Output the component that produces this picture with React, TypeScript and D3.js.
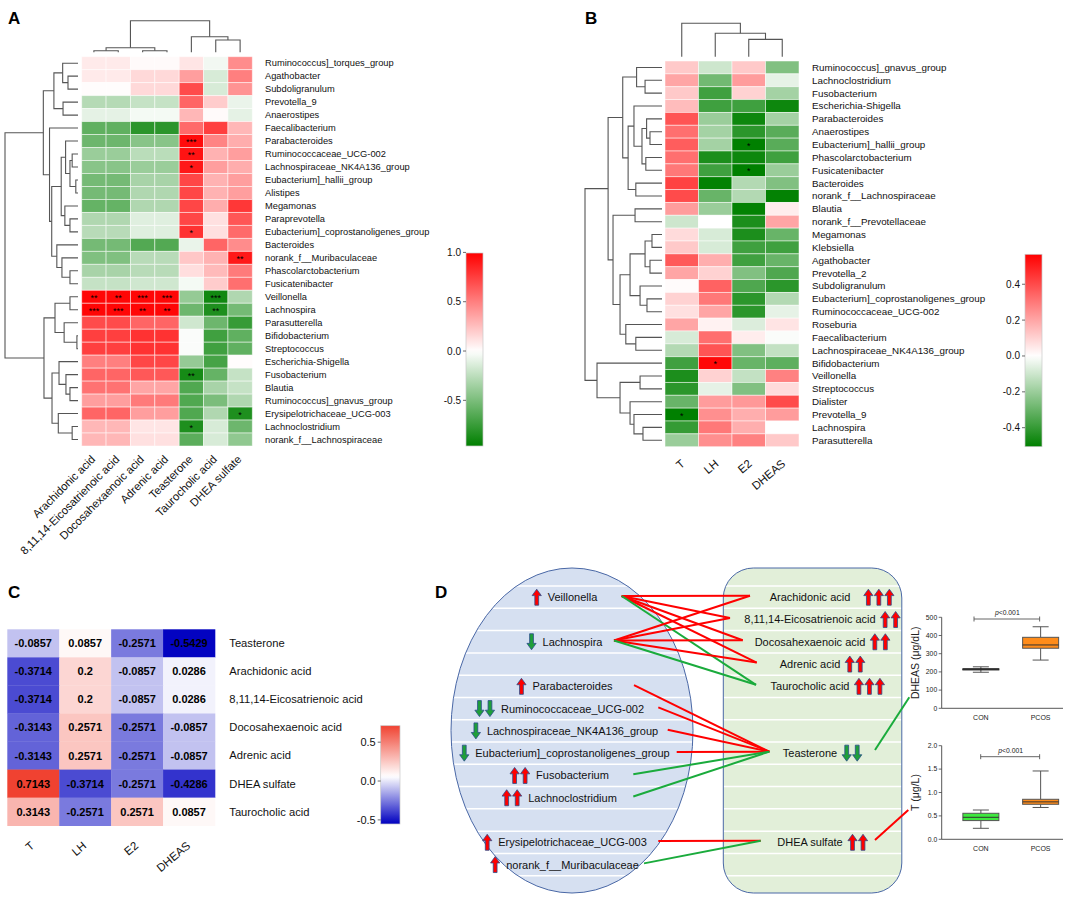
import React from 'react';
import * as d3 from 'd3';

const FONT = "Arial, 'Liberation Sans', Helvetica, sans-serif";

type Tree = number | [number, Tree, Tree];

// ---------------- Panel A data ----------------
const aRowNames = [
  'Ruminococcus]_torques_group', 'Agathobacter', 'Subdoligranulum', 'Prevotella_9', 'Anaerostipes',
  'Faecalibacterium', 'Parabacteroides', 'Ruminococcaceae_UCG-002', 'Lachnospiraceae_NK4A136_group',
  'Eubacterium]_hallii_group', 'Alistipes', 'Megamonas', 'Paraprevotella',
  'Eubacterium]_coprostanoligenes_group', 'Bacteroides', 'norank_f__Muribaculaceae',
  'Phascolarctobacterium', 'Fusicatenibacter', 'Veillonella', 'Lachnospira', 'Parasutterella',
  'Bifidobacterium', 'Streptococcus', 'Escherichia-Shigella', 'Fusobacterium', 'Blautia',
  'Ruminococcus]_gnavus_group', 'Erysipelotrichaceae_UCG-003', 'Lachnoclostridium', 'norank_f__Lachnospiraceae',
];
const aColNames = [
  'Arachidonic acid', '8,11,14-Eicosatrienoic acid', 'Docosahexaenoic acid', 'Adrenic acid',
  'Teasterone', 'Taurocholic acid', 'DHEA sulfate',
];
const aValues: number[][] = [
  [0.08, 0.08, 0.02, 0.02, 0.1, -0.05, 0.45],
  [0.08, 0.08, 0.15, 0.15, 0.38, -0.15, 0.5],
  [0.01, 0.01, 0.15, 0.15, 0.7, -0.15, 0.42],
  [-0.28, -0.28, -0.22, -0.22, 0.6, 0.2, -0.08],
  [-0.1, -0.1, -0.04, -0.04, 0.28, 0.02, -0.1],
  [-0.6, -0.6, -0.8, -0.8, 0.58, 0.75, 0.28],
  [-0.55, -0.55, -0.45, -0.45, 0.95, 0.48, 0.32],
  [-0.38, -0.38, -0.26, -0.26, 0.92, 0.3, 0.38],
  [-0.45, -0.45, -0.38, -0.38, 0.9, 0.38, 0.32],
  [-0.52, -0.52, -0.33, -0.33, 0.72, 0.3, 0.38],
  [-0.52, -0.52, -0.3, -0.3, 0.72, 0.3, 0.38],
  [-0.58, -0.58, -0.3, -0.3, 0.72, 0.32, 0.78],
  [-0.3, -0.3, -0.12, -0.12, 0.72, 0.12, 0.66],
  [-0.27, -0.27, -0.12, -0.12, 0.8, 0.12, 0.58],
  [-0.52, -0.52, -0.65, -0.65, -0.08, 0.6, 0.45],
  [-0.48, -0.48, -0.27, -0.27, 0.22, 0.3, 0.9],
  [-0.33, -0.33, -0.27, -0.27, 0.13, 0.27, 0.52],
  [-0.22, -0.22, -0.18, -0.18, -0.04, 0.2, 0.56],
  [0.97, 0.97, 0.97, 0.97, -0.4, -0.9, -0.3],
  [0.97, 0.97, 0.97, 0.97, -0.55, -0.85, -0.52],
  [0.7, 0.7, 0.6, 0.6, -0.18, -0.55, -0.76],
  [0.75, 0.75, 0.8, 0.8, -0.02, -0.72, -0.6],
  [0.75, 0.75, 0.8, 0.8, -0.02, -0.72, -0.6],
  [0.5, 0.5, 0.72, 0.72, -0.4, -0.7, 0.01],
  [0.6, 0.6, 0.65, 0.65, -0.88, -0.58, -0.22],
  [0.55, 0.55, 0.35, 0.35, -0.66, -0.33, -0.22],
  [0.38, 0.38, 0.52, 0.52, -0.66, -0.5, -0.3],
  [0.6, 0.6, 0.38, 0.38, -0.66, -0.3, -0.85],
  [0.28, 0.28, 0.1, 0.1, -0.85, -0.15, -0.55],
  [0.28, 0.28, 0.12, 0.12, -0.62, -0.15, -0.42],
];
const aStars: [number, number, string][] = [
  [6, 4, '***'], [7, 4, '**'], [8, 4, '*'], [13, 4, '*'], [15, 6, '**'],
  [18, 0, '**'], [18, 1, '**'], [18, 2, '***'], [18, 3, '***'], [18, 5, '***'],
  [19, 0, '***'], [19, 1, '***'], [19, 2, '**'], [19, 3, '**'], [19, 5, '**'],
  [24, 4, '**'], [27, 6, '*'], [28, 4, '*'],
];
const aRowTree: Tree = [1.0,
  [0.475,
    [0.33, [0.21, 0, [0.137, 1, 2]], [0.205, 3, 4]],
    [0.39, 5, [0.36,
      [0.23, [0.17, 6, [0.11, [0.08, 7, 8], [0.03, 9, 10]]], [0.18, 11, [0.11, 12, 13]]],
      [0.29, 14, [0.22, 15, [0.11, 16, 17]]]]]],
  [0.466,
    [0.315, [0.11, 18, 19], [0.19, 20, [0.015, 21, 22]]],
    [0.356, [0.26, 23, [0.165, 24, [0.11, 25, 26]]], [0.27, 27, [0.08, 28, 29]]]]];
const aColTree: Tree = [1.0, [0.145, [0.05, 0, 1], [0.05, 2, 3]], [0.49, 4, [0.39, 5, 6]]];
const aTicks = [1.0, 0.5, 0.0, -0.5];

// ---------------- Panel B data ----------------
const bRowNames = [
  'Ruminococcus]_gnavus_group', 'Lachnoclostridium', 'Fusobacterium', 'Escherichia-Shigella',
  'Parabacteroides', 'Anaerostipes', 'Eubacterium]_hallii_group', 'Phascolarctobacterium',
  'Fusicatenibacter', 'Bacteroides', 'norank_f__Lachnospiraceae', 'Blautia', 'norank_f__Prevotellaceae',
  'Megamonas', 'Klebsiella', 'Agathobacter', 'Prevotella_2', 'Subdoligranulum',
  'Eubacterium]_coprostanoligenes_group', 'Ruminococcaceae_UCG-002', 'Roseburia', 'Faecalibacterium',
  'Lachnospiraceae_NK4A136_group', 'Bifidobacterium', 'Veillonella', 'Streptococcus', 'Dialister',
  'Prevotella_9', 'Lachnospira', 'Parasutterella',
];
const bColNames = ['T', 'LH', 'E2', 'DHEAS'];
const bValues: number[][] = [
  [0.12, -0.1, 0.12, -0.25],
  [0.2, -0.28, 0.22, -0.05],
  [0.12, -0.38, 0.1, -0.18],
  [0.15, -0.38, -0.38, -0.48],
  [0.38, -0.2, -0.48, -0.18],
  [0.32, -0.18, -0.42, -0.33],
  [0.36, -0.18, -0.52, -0.33],
  [0.32, -0.45, -0.48, -0.38],
  [0.3, -0.38, -0.55, -0.2],
  [0.42, -0.5, -0.15, -0.25],
  [0.4, -0.3, -0.15, -0.5],
  [0.22, -0.2, -0.5, 0.04],
  [-0.1, 0.0, -0.45, 0.2],
  [0.08, -0.08, -0.45, -0.3],
  [0.12, -0.08, -0.38, -0.38],
  [0.37, 0.18, -0.38, -0.3],
  [0.2, 0.1, -0.25, -0.35],
  [0.01, 0.35, -0.35, -0.42],
  [0.1, 0.3, -0.42, -0.15],
  [0.07, 0.2, -0.42, -0.05],
  [0.2, 0.03, -0.07, 0.06],
  [-0.08, 0.32, 0.04, -0.01],
  [-0.15, 0.38, -0.25, -0.12],
  [-0.38, 0.55, -0.3, -0.32],
  [-0.45, 0.1, -0.12, 0.28],
  [-0.42, -0.05, -0.25, 0.08],
  [-0.3, 0.22, 0.23, 0.4],
  [-0.52, 0.25, 0.18, 0.22],
  [-0.4, 0.3, 0.18, 0.0],
  [-0.2, 0.25, 0.28, 0.12],
];
const bStars: [number, number, string][] = [[6, 2, '*'], [8, 2, '*'], [23, 1, '*'], [27, 0, '*']];
const bRowTree: Tree = [1.0,
  [0.7,
    [0.51, [0.33, 0, [0.22, 1, 2]],
      [0.44, [0.364, 3, [0.26, [0.2, 4, [0.156, 5, 6]], [0.21, 7, 8]]], [0.34, 9, 10]]],
    [0.636, [0.35, 11, 12],
      [0.545, [0.415, [0.22, [0.13, 13, 14], [0.156, 15, 16]], [0.285, 17, [0.195, 18, 19]]],
        [0.47, 20, [0.34, 21, 22]]]]],
  [0.844, 23, [0.545, [0.285, 24, 25], [0.415, 26, [0.364, 27, [0.247, 28, 29]]]]]];
const bColTree: Tree = [1.0, 0, [0.7, 1, [0.52, 2, 3]]];
const bTicks = [0.4, 0.2, 0.0, -0.2, -0.4];

// ---------------- Panel C data ----------------
const cRowNames = [
  'Teasterone', 'Arachidonic acid', '8,11,14-Eicosatrienoic acid', 'Docosahexaenoic acid',
  'Adrenic acid', 'DHEA sulfate', 'Taurocholic acid',
];
const cColNames = ['T', 'LH', 'E2', 'DHEAS'];
const cValues: number[][] = [
  [-0.0857, 0.0857, -0.2571, -0.5429],
  [-0.3714, 0.2, -0.0857, 0.0286],
  [-0.3714, 0.2, -0.0857, 0.0286],
  [-0.3143, 0.2571, -0.2571, -0.0857],
  [-0.3143, 0.2571, -0.2571, -0.0857],
  [0.7143, -0.3714, -0.2571, -0.4286],
  [0.3143, -0.2571, 0.2571, 0.0857],
];
const cTicks = [0.5, 0.0, -0.5];

// ---------------- Panel D data ----------------
const dMicrobes = [
  'Veillonella', 'Lachnospira', 'Parabacteroides', 'Ruminococcaceae_UCG-002',
  'Lachnospiraceae_NK4A136_group', 'Eubacterium]_coprostanoligenes_group', 'Fusobacterium',
  'Lachnoclostridium', 'Erysipelotrichaceae_UCG-003', 'norank_f__Muribaculaceae',
];
const dMicrobeRow = [0, 2, 4, 5, 6, 7, 8, 9, 11, 12];
const dMicrobeArrows = [1, -1, 1, -2, -1, -1, 2, 2, 1, 1];
const dMetabolites = [
  'Arachidonic acid', '8,11,14-Eicosatrienoic acid', 'Docosahexaenoic acid', 'Adrenic acid',
  'Taurocholic acid', 'Teasterone', 'DHEA sulfate',
];
const dMetaboliteRow = [0, 1, 2, 3, 4, 7, 11];
const dMetaboliteArrows = [3, 2, 2, 2, 3, -2, 2];
const dLinks: [number, number, number][] = [
  [0, 0, 1], [0, 1, 1], [0, 2, 1], [0, 3, 1], [0, 4, -1],
  [1, 0, 1], [1, 1, 1], [1, 2, 1], [1, 3, 1], [1, 4, -1],
  [2, 5, 1], [3, 5, 1], [4, 5, 1], [5, 5, 1], [6, 5, -1], [7, 5, -1],
  [8, 6, 1], [9, 6, -1],
];
const boxGroups = ['CON', 'PCOS'];
// min, q1, median, q3, max
const dheasStats = [[198, 211, 214, 217, 228], [265, 330, 348, 390, 448]];
const tStats = [[0.235, 0.4, 0.47, 0.556, 0.626], [0.68, 0.748, 0.8, 0.855, 1.46]];
const dheasTicks = [0, 100, 200, 300, 400, 500];
const tTicks = [0, 0.5, 1.0, 1.5, 2.0];

// ---------------- helpers ----------------
let measureCtx: CanvasRenderingContext2D | null = null;
function textWidth(s: string, size: number): number {
  if (!measureCtx) measureCtx = document.createElement('canvas').getContext('2d');
  if (!measureCtx) return s.length * size * 0.5;
  measureCtx.font = `${size}px Arial, 'Liberation Sans', sans-serif`;
  return measureCtx.measureText(s).width;
}

function Dendro({ tree, leafPos, hScale, orient }: { tree: Tree; leafPos: (i: number) => number; hScale: (h: number) => number; orient: 'left' | 'top' }) {
  const root = d3.hierarchy<Tree>(tree, (d) => (Array.isArray(d) ? [d[1], d[2]] : null));
  const pos = new Map<any, number>();
  root.eachAfter((n) => {
    if (n.children) pos.set(n, (pos.get(n.children[0])! + pos.get(n.children[1])!) / 2);
    else pos.set(n, leafPos(n.data as number));
  });
  const hOf = (n: any) => (n.children ? (n.data as any)[0] : 0);
  const paths: string[] = [];
  root.each((n) => {
    if (!n.children) return;
    const [a, b] = n.children;
    const hn = hScale(hOf(n));
    if (orient === 'left') paths.push(`M${hScale(hOf(a))},${pos.get(a)}H${hn}V${pos.get(b)}H${hScale(hOf(b))}`);
    else paths.push(`M${pos.get(a)},${hScale(hOf(a))}V${hn}H${pos.get(b)}V${hScale(hOf(b))}`);
  });
  return (
    <g fill="none" stroke="#555" strokeWidth={1.1}>
      {paths.map((d, i) => <path key={i} d={d} />)}
    </g>
  );
}

function ColorBar({ id, x, w, yTop, yBot, vTop, vBot, color, ticks, fontSize }: any) {
  const ys = d3.scaleLinear().domain([vBot, vTop]).range([yBot, yTop]);
  const n = 40;
  return (
    <g>
      <defs>
        <linearGradient id={id} x1="0" y1="0" x2="0" y2="1">
          {d3.range(n + 1).map((i) => (
            <stop key={i} offset={i / n} stopColor={color(vTop + ((vBot - vTop) * i) / n)} />
          ))}
        </linearGradient>
      </defs>
      <rect x={x} y={yTop} width={w} height={yBot - yTop} fill={`url(#${id})`} stroke="#c8c8c8" strokeWidth={0.7} />
      {ticks.map((t: number) => (
        <g key={t}>
          <line x1={x - 3} x2={x} y1={ys(t)} y2={ys(t)} stroke="#444" strokeWidth={0.8} />
          <text x={x - 5} y={ys(t)} dy="0.35em" textAnchor="end" fontSize={fontSize} fill="#111">{t.toFixed(1)}</text>
        </g>
      ))}
    </g>
  );
}

function Heatmap({ rows, cols, values, stars, xr, yr, color, labelX, labelSize, colLabelY, colLabelDx, colLabelSize, angle }: any) {
  const xs = d3.scaleBand<number>().domain(d3.range(cols.length)).range(xr);
  const ys = d3.scaleBand<number>().domain(d3.range(rows.length)).range(yr);
  return (
    <g>
      {values.map((row: number[], i: number) =>
        row.map((v, j) => (
          <rect key={`${i}-${j}`} x={xs(j)} y={ys(i)} width={xs.bandwidth()} height={ys.bandwidth()}
            fill={color(v)} stroke="#ffffff" strokeOpacity={0.55} strokeWidth={0.9} />
        ))
      )}
      {stars.map(([i, j, s]: [number, number, string], k: number) => (
        <text key={k} x={xs(j)! + xs.bandwidth() / 2} y={ys(i)! + ys.bandwidth() / 2 + 4.2}
          textAnchor="middle" fontSize={9} fill="#000">{s}</text>
      ))}
      {rows.map((r: string, i: number) => (
        <text key={r + i} x={labelX} y={ys(i)! + ys.bandwidth() / 2} dy="0.35em" fontSize={labelSize} fill="#111">{r}</text>
      ))}
      {cols.map((c: string, j: number) => {
        const cx = xs(j)! + xs.bandwidth() / 2 + colLabelDx;
        return (
          <text key={c} x={cx} y={colLabelY} textAnchor="end" fontSize={colLabelSize} fill="#111"
            transform={`rotate(${angle},${cx},${colLabelY})`}>{c}</text>
        );
      })}
    </g>
  );
}

function PanelA() {
  const color = d3.scaleLinear<string>().domain([-0.963, 0, 0.994]).range(['#008000', '#ffffff', '#ff0000']).clamp(true);
  const xr: [number, number] = [81.7, 252.3];
  const yr: [number, number] = [56.7, 446];
  const xs = d3.scaleBand<number>().domain(d3.range(7)).range(xr);
  const ys = d3.scaleBand<number>().domain(d3.range(30)).range(yr);
  return (
    <g>
      <text x={8} y={24} fontSize={17} fontWeight="bold">A</text>
      <Dendro tree={aRowTree} orient="left" leafPos={(i) => ys(i)! + ys.bandwidth() / 2}
        hScale={d3.scaleLinear().domain([0, 1]).range([78, 5])} />
      <Dendro tree={aColTree} orient="top" leafPos={(i) => xs(i)! + xs.bandwidth() / 2}
        hScale={d3.scaleLinear().domain([0, 1]).range([52.3, 20.7])} />
      <Heatmap rows={aRowNames} cols={aColNames} values={aValues} stars={aStars} xr={xr} yr={yr} color={color}
        labelX={265} labelSize={9.3} colLabelY={460} colLabelDx={2} colLabelSize={11.3} angle={-45} />
      <ColorBar id="cbA" x={466} w={17} yTop={253} yBot={446} vTop={0.994} vBot={-0.963} color={color} ticks={aTicks} fontSize={10} />
    </g>
  );
}

function PanelB() {
  const color = d3.scaleLinear<string>().domain([-0.506, 0, 0.567]).range(['#008000', '#ffffff', '#ff0000']).clamp(true);
  const xr: [number, number] = [665, 799];
  const yr: [number, number] = [61, 446.7];
  const xs = d3.scaleBand<number>().domain(d3.range(4)).range(xr);
  const ys = d3.scaleBand<number>().domain(d3.range(30)).range(yr);
  return (
    <g>
      <text x={585} y={24} fontSize={17} fontWeight="bold">B</text>
      <Dendro tree={bRowTree} orient="left" leafPos={(i) => ys(i)! + ys.bandwidth() / 2}
        hScale={d3.scaleLinear().domain([0, 1]).range([662, 585])} />
      <Dendro tree={bColTree} orient="top" leafPos={(i) => xs(i)! + xs.bandwidth() / 2}
        hScale={d3.scaleLinear().domain([0, 1]).range([56.7, 23.3])} />
      <Heatmap rows={bRowNames} cols={bColNames} values={bValues} stars={bStars} xr={xr} yr={yr} color={color}
        labelX={812} labelSize={9.8} colLabelY={465} colLabelDx={4} colLabelSize={11.5} angle={-40} />
      <ColorBar id="cbB" x={1025} w={17} yTop={254.3} yBot={446.7} vTop={0.567} vBot={-0.506} color={color} ticks={bTicks} fontSize={10} />
    </g>
  );
}

function PanelC() {
  const color = d3.scaleLinear<string>().domain([-0.55, 0.06, 0.72]).range(['#0000c0', '#ffffff', '#f0402f']).clamp(true);
  const xs = d3.scaleBand<number>().domain(d3.range(4)).range([7.3, 215]);
  const ys = d3.scaleBand<number>().domain(d3.range(7)).range([629.3, 825.7]);
  return (
    <g>
      <text x={8} y={598} fontSize={17} fontWeight="bold">C</text>
      {cValues.map((row, i) =>
        row.map((v, j) => (
          <g key={`${i}-${j}`}>
            <rect x={xs(j)} y={ys(i)} width={xs.bandwidth() + 0.3} height={ys.bandwidth() + 0.3} fill={color(v)} />
            <text x={xs(j)! + xs.bandwidth() / 2} y={ys(i)! + ys.bandwidth() / 2} dy="0.36em" textAnchor="middle"
              fontSize={11} fontWeight="bold" fill="#000">{String(v)}</text>
          </g>
        ))
      )}
      {cRowNames.map((r, i) => (
        <text key={r} x={229.3} y={ys(i)! + ys.bandwidth() / 2} dy="0.35em" fontSize={11.2} fill="#111">{r}</text>
      ))}
      {cColNames.map((c, j) => {
        const cx = xs(j)! + xs.bandwidth() / 2 + 2;
        const cy = 847;
        return <text key={c} x={cx} y={cy} textAnchor="end" fontSize={11.5} fill="#111" transform={`rotate(-40,${cx},${cy})`}>{c}</text>;
      })}
      <ColorBar id="cbC" x={380.7} w={19.3} yTop={725.7} yBot={824} vTop={0.712} vBot={-0.553} color={color} ticks={cTicks} fontSize={11} />
    </g>
  );
}

function arrowPath(cx: number, cy: number, up: boolean) {
  const s = up ? 1 : -1;
  const pts = [[0, -8], [4.6, -1.6], [1.9, -1.6], [1.9, 8], [-1.9, 8], [-1.9, -1.6], [-4.6, -1.6]];
  return 'M' + pts.map(([x, y]) => `${cx + x},${cy + s * y}`).join('L') + 'Z';
}

function Arrows({ n, startX, step, cy }: { n: number; startX: number; step: number; cy: number }) {
  const up = n > 0;
  return (
    <g>
      {d3.range(Math.abs(n)).map((j) => (
        <path key={j} d={arrowPath(startX + j * step, cy, up)} fill={up ? '#ff0000' : '#1f9e3a'} stroke="#2b4d8c" strokeWidth={0.8} />
      ))}
    </g>
  );
}

function BoxPlot({ stats, ticks, yr, domain, title, fills, fmt, pY, bracketX0 }: any) {
  const y = d3.scaleLinear().domain(domain).range(yr);
  const x = d3.scalePoint<string>().domain(boxGroups).range([951, 1070.5]).padding(0.5);
  const axisX = 941.7;
  const bw = 36;
  const cap = 16;
  return (
    <g>
      <line x1={axisX} x2={axisX} y1={y(domain[0])} y2={y(domain[1])} stroke="#444" strokeWidth={0.9} />
      <line x1={axisX} x2={1063} y1={y(domain[0])} y2={y(domain[0])} stroke="#444" strokeWidth={0.9} />
      {ticks.map((t: number) => (
        <g key={t}>
          <line x1={axisX - 3} x2={axisX} y1={y(t)} y2={y(t)} stroke="#444" strokeWidth={0.8} />
          <text x={axisX - 4.5} y={y(t)} dy="0.35em" textAnchor="end" fontSize={6.8} fill="#222">{fmt(t)}</text>
        </g>
      ))}
      {boxGroups.map((g, i) => {
        const [mn, q1, md, q3, mx] = stats[i];
        const cx = x(g)!;
        return (
          <g key={g}>
            <line x1={cx} x2={cx} y1={y(mx)} y2={y(q3)} stroke="#555" strokeWidth={1} />
            <line x1={cx} x2={cx} y1={y(q1)} y2={y(mn)} stroke="#555" strokeWidth={1} />
            <line x1={cx - cap / 2} x2={cx + cap / 2} y1={y(mx)} y2={y(mx)} stroke="#555" strokeWidth={1} />
            <line x1={cx - cap / 2} x2={cx + cap / 2} y1={y(mn)} y2={y(mn)} stroke="#555" strokeWidth={1} />
            <rect x={cx - bw / 2} y={y(q3)} width={bw} height={y(q1) - y(q3)} fill={fills[i]} stroke={fills[i] === '#111' ? '#111' : '#555'} strokeWidth={1} />
            <line x1={cx - bw / 2} x2={cx + bw / 2} y1={y(md)} y2={y(md)} stroke="#333" strokeWidth={1} />
            <text x={cx} y={y(domain[0]) + 12} textAnchor="middle" fontSize={7} fill="#222">{g}</text>
          </g>
        );
      })}
      <line x1={bracketX0} x2={x('PCOS')! - 1} y1={pY} y2={pY} stroke="#555" strokeWidth={0.9} />
      <line x1={bracketX0} x2={bracketX0} y1={pY - 2.5} y2={pY + 2.5} stroke="#555" strokeWidth={0.9} />
      <line x1={x('PCOS')! - 1} x2={x('PCOS')! - 1} y1={pY - 2.5} y2={pY + 2.5} stroke="#555" strokeWidth={0.9} />
      <text x={(bracketX0 + x('PCOS')!) / 2} y={pY - 4} textAnchor="middle" fontSize={6.8} fill="#222">
        <tspan fontStyle="italic">p</tspan>&lt;0.001
      </text>
      <text transform={`translate(919,${(yr[0] + yr[1]) / 2}) rotate(-90)`} textAnchor="middle" fontSize={10.5} fill="#222">{title}</text>
    </g>
  );
}

function PanelD() {
  const rowY = (k: number) => 597.2 + 22.28 * k;
  const fs = 11;
  const leftCx = 572.5;
  const rightCx = 810;
  const microbeAnchorX = [621.7, 614, 634, 658.3, 667.7, 676.7, 633.3, 633.3, 658.3, 644];
  const metaboliteAnchorX = [750, 730, 742.7, 756.7, 756, 769.3, 760.7];
  const stripes = d3.range(-2, 15).map((k) => rowY(k) + 11.14);
  return (
    <g>
      <text x={435} y={598} fontSize={17} fontWeight="bold">D</text>
      <defs>
        <clipPath id="clipEll"><ellipse cx={572} cy={730.5} rx={121} ry={162.5} /></clipPath>
        <clipPath id="clipRect"><rect x={723.3} y={568} width={178.5} height={325} rx={30} ry={30} /></clipPath>
      </defs>
      <ellipse cx={572} cy={730.5} rx={121} ry={162.5} fill="#d6e0f1" />
      <g clipPath="url(#clipEll)">
        {stripes.map((s, i) => <line key={i} x1={440} x2={700} y1={s} y2={s} stroke="#ffffff" strokeWidth={1.5} />)}
      </g>
      <ellipse cx={572} cy={730.5} rx={121} ry={162.5} fill="none" stroke="#4a68a6" strokeWidth={1} />
      <rect x={723.3} y={568} width={178.5} height={325} rx={30} ry={30} fill="#e2efd9" />
      <g clipPath="url(#clipRect)">
        {stripes.map((s, i) => <line key={i} x1={715} x2={910} y1={s} y2={s} stroke="#ffffff" strokeWidth={1.5} />)}
      </g>
      <rect x={723.3} y={568} width={178.5} height={325} rx={30} ry={30} fill="none" stroke="#4a68a6" strokeWidth={1} />

      {dMicrobes.map((m, i) => {
        const cy = rowY(dMicrobeRow[i]);
        const w = textWidth(m, fs);
        const start = leftCx - w / 2;
        const n = dMicrobeArrows[i];
        const an = Math.abs(n);
        return (
          <g key={m}>
            <text x={leftCx} y={cy} dy="0.36em" textAnchor="middle" fontSize={fs} fill="#111">{m}</text>
            <Arrows n={n} startX={start - 11 - (an - 1) * 10.5} step={10.5} cy={cy} />
          </g>
        );
      })}
      {dMetabolites.map((m, i) => {
        const cy = rowY(dMetaboliteRow[i]);
        const w = textWidth(m, fs);
        const end = rightCx + w / 2;
        return (
          <g key={m}>
            <text x={rightCx} y={cy} dy="0.36em" textAnchor="middle" fontSize={fs} fill="#111">{m}</text>
            <Arrows n={dMetaboliteArrows[i]} startX={end + (i === 0 ? 18 : 9.5)} step={10.5} cy={cy} />
          </g>
        );
      })}
      {dLinks.map(([a, b, s], i) => (
        <line key={i} x1={microbeAnchorX[a]} y1={rowY(dMicrobeRow[a]) - 1.2} x2={metaboliteAnchorX[b]} y2={rowY(dMetaboliteRow[b]) - 1.5}
          stroke={s > 0 ? '#ff0000' : '#1aab3c'} strokeWidth={2} />
      ))}
      <line x1={875} y1={750} x2={909.3} y2={697.3} stroke="#1aab3c" strokeWidth={2} />
      <line x1={875} y1={840} x2={908.3} y2={810} stroke="#ff0000" strokeWidth={2} />

      <BoxPlot stats={dheasStats} ticks={dheasTicks} yr={[708.3, 617.3]} domain={[0, 500]} title="DHEAS (μg/dL)"
        fills={['#111', '#ff8c1a']} fmt={(t: number) => String(t)} pY={619} bracketX0={974} />
      <BoxPlot stats={tStats} ticks={tTicks} yr={[839.3, 745.7]} domain={[0, 2]} title="T (μg/L)"
        fills={['#3ee83e', '#ff8c1a']} fmt={(t: number) => t.toFixed(1)} pY={756.7} bracketX0={980.7} />
    </g>
  );
}

export default function App() {
  return (
    <svg width={1084} height={900} style={{ position: 'absolute', left: 0, top: 0, display: 'block' }} fontFamily={FONT}>
      <rect width={1084} height={900} fill="#ffffff" />
      <PanelA />
      <PanelB />
      <PanelC />
      <PanelD />
    </svg>
  );
}
